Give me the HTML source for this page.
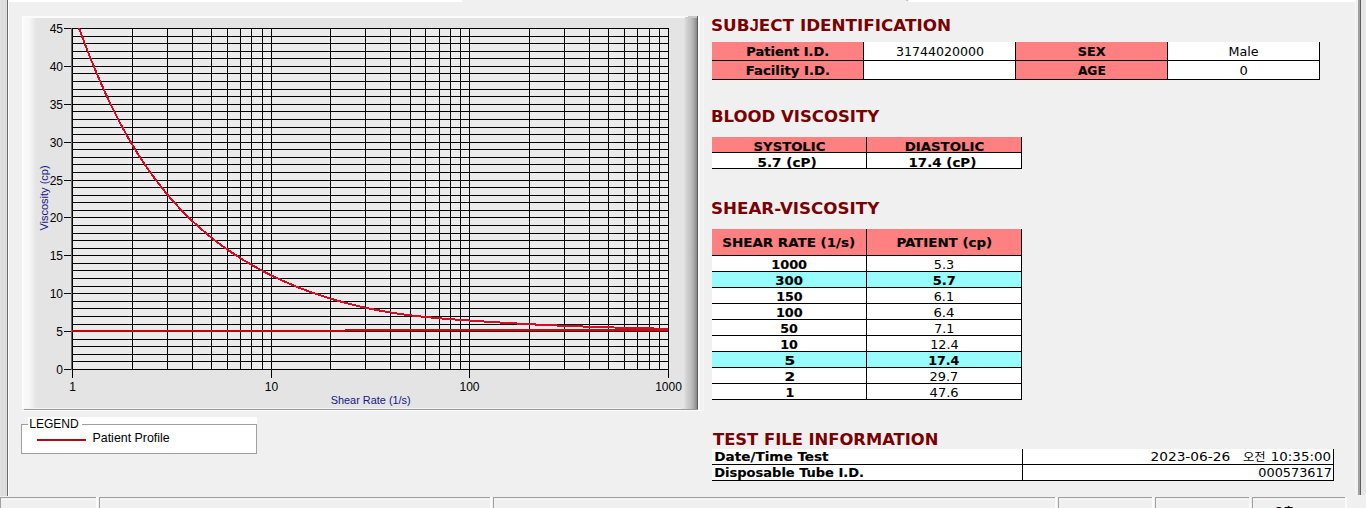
<!DOCTYPE html>
<html><head><meta charset="utf-8"><title>Blood Viscosity Report</title>
<style>html,body{margin:0;padding:0;background:#f0f0f0;}body{width:1366px;height:508px;overflow:hidden;position:relative;}svg{display:block;position:absolute;left:0;top:0;}</style>
</head><body>
<svg width="1366" height="508" viewBox="0 0 1366 508" shape-rendering="crispEdges"><rect x="0" y="0" width="1366" height="508" fill="#f0f0f0"/>
<rect x="0" y="0" width="462" height="2" fill="#ffffff"/>
<rect x="909" y="0" width="447" height="2" fill="#ffffff"/>
<rect x="906" y="0" width="2" height="1" fill="#c8c8c8"/>
<rect x="0" y="0" width="7" height="496" fill="#e0e0e0"/>
<rect x="2" y="0" width="1" height="496" fill="#d8d8d8"/>
<rect x="5" y="0" width="1" height="496" fill="#d8d8d8"/>
<rect x="7" y="0" width="1" height="496" fill="#696969"/>
<rect x="8" y="0" width="1" height="496" fill="#ffffff"/>
<rect x="1355" y="0" width="1" height="495" fill="#f7f7f7"/>
<rect x="1358" y="0" width="2" height="495" fill="#a0a0a0"/>
<rect x="1360" y="0" width="1" height="495" fill="#5e5e5e"/>
<rect x="1361" y="0" width="5" height="495" fill="#e6e6e6"/>
<defs>
<clipPath id="pc"><rect x="72" y="28" width="597" height="342"/></clipPath>
<linearGradient id="lg" x1="0" x2="1" y1="0" y2="0"><stop offset="0" stop-color="#fcfcfc"/><stop offset="0.55" stop-color="#f6f6f6"/><stop offset="1" stop-color="#e4e4e4"/></linearGradient>
<linearGradient id="rg" x1="0" x2="1" y1="0" y2="0"><stop offset="0" stop-color="#e3e3e3"/><stop offset="0.15" stop-color="#d6d6d6"/><stop offset="0.3" stop-color="#cccccc"/><stop offset="0.46" stop-color="#c4c4c4"/><stop offset="0.62" stop-color="#b8b8b8"/><stop offset="0.77" stop-color="#a8a8a8"/><stop offset="0.92" stop-color="#929292"/><stop offset="1" stop-color="#888888"/></linearGradient>
</defs>
<rect x="22" y="16" width="676" height="394" fill="#e4e4e4"/>
<rect x="22" y="16" width="14" height="393" fill="url(#lg)"/>
<rect x="22" y="16" width="667" height="2" fill="#fbfbfb"/>
<rect x="684" y="18" width="13" height="391" fill="url(#rg)"/>
<polygon points="684,18 689,16 697,16 697,18" fill="#c8c8c8"/>
<rect x="697" y="16" width="1" height="393" fill="#5c5c5c"/>
<rect x="24" y="408" width="657" height="1" fill="#f4f4f4"/>
<rect x="24" y="409" width="674" height="1" fill="#9a9a9a"/>
<rect x="22" y="410" width="680" height="1" fill="#fafafa"/>
<rect x="698" y="16" width="2" height="395" fill="#fcfcfc"/>
<rect x="702" y="16" width="2" height="395" fill="#f5f5f5"/>
<rect x="72" y="28" width="596" height="341" fill="#ebebeb"/>
<g fill="#000"><rect x="72" y="369" width="597" height="1"/><rect x="72" y="361" width="597" height="1"/><rect x="72" y="354" width="597" height="1"/><rect x="72" y="346" width="597" height="1"/><rect x="72" y="339" width="597" height="1"/><rect x="72" y="331" width="597" height="1"/><rect x="72" y="324" width="597" height="1"/><rect x="72" y="316" width="597" height="1"/><rect x="72" y="308" width="597" height="1"/><rect x="72" y="301" width="597" height="1"/><rect x="72" y="293" width="597" height="1"/><rect x="72" y="286" width="597" height="1"/><rect x="72" y="278" width="597" height="1"/><rect x="72" y="270" width="597" height="1"/><rect x="72" y="263" width="597" height="1"/><rect x="72" y="255" width="597" height="1"/><rect x="72" y="248" width="597" height="1"/><rect x="72" y="240" width="597" height="1"/><rect x="72" y="233" width="597" height="1"/><rect x="72" y="225" width="597" height="1"/><rect x="72" y="217" width="597" height="1"/><rect x="72" y="210" width="597" height="1"/><rect x="72" y="202" width="597" height="1"/><rect x="72" y="195" width="597" height="1"/><rect x="72" y="187" width="597" height="1"/><rect x="72" y="180" width="597" height="1"/><rect x="72" y="172" width="597" height="1"/><rect x="72" y="164" width="597" height="1"/><rect x="72" y="157" width="597" height="1"/><rect x="72" y="149" width="597" height="1"/><rect x="72" y="142" width="597" height="1"/><rect x="72" y="134" width="597" height="1"/><rect x="72" y="127" width="597" height="1"/><rect x="72" y="119" width="597" height="1"/><rect x="72" y="111" width="597" height="1"/><rect x="72" y="104" width="597" height="1"/><rect x="72" y="96" width="597" height="1"/><rect x="72" y="89" width="597" height="1"/><rect x="72" y="81" width="597" height="1"/><rect x="72" y="73" width="597" height="1"/><rect x="72" y="66" width="597" height="1"/><rect x="72" y="58" width="597" height="1"/><rect x="72" y="51" width="597" height="1"/><rect x="72" y="43" width="597" height="1"/><rect x="72" y="36" width="597" height="1"/><rect x="72" y="28" width="597" height="1"/><rect x="72" y="28" width="1" height="342"/><rect x="132" y="28" width="1" height="342"/><rect x="167" y="28" width="1" height="342"/><rect x="192" y="28" width="1" height="342"/><rect x="211" y="28" width="1" height="342"/><rect x="227" y="28" width="1" height="342"/><rect x="240" y="28" width="1" height="342"/><rect x="251" y="28" width="1" height="342"/><rect x="262" y="28" width="1" height="342"/><rect x="271" y="28" width="1" height="342"/><rect x="330" y="28" width="1" height="342"/><rect x="365" y="28" width="1" height="342"/><rect x="390" y="28" width="1" height="342"/><rect x="410" y="28" width="1" height="342"/><rect x="425" y="28" width="1" height="342"/><rect x="439" y="28" width="1" height="342"/><rect x="450" y="28" width="1" height="342"/><rect x="460" y="28" width="1" height="342"/><rect x="469" y="28" width="1" height="342"/><rect x="529" y="28" width="1" height="342"/><rect x="564" y="28" width="1" height="342"/><rect x="589" y="28" width="1" height="342"/><rect x="608" y="28" width="1" height="342"/><rect x="624" y="28" width="1" height="342"/><rect x="637" y="28" width="1" height="342"/><rect x="649" y="28" width="1" height="342"/><rect x="659" y="28" width="1" height="342"/><rect x="668" y="28" width="1" height="342"/><rect x="64" y="369" width="8" height="1"/><rect x="64" y="331" width="8" height="1"/><rect x="64" y="293" width="8" height="1"/><rect x="64" y="255" width="8" height="1"/><rect x="64" y="217" width="8" height="1"/><rect x="64" y="180" width="8" height="1"/><rect x="64" y="142" width="8" height="1"/><rect x="64" y="104" width="8" height="1"/><rect x="64" y="66" width="8" height="1"/><rect x="64" y="28" width="8" height="1"/><rect x="72" y="370" width="1" height="8"/><rect x="271" y="370" width="1" height="8"/><rect x="469" y="370" width="1" height="8"/><rect x="668" y="370" width="1" height="8"/></g>
<rect x="71" y="28" width="1" height="342" fill="#6a6a6a"/>
<g clip-path="url(#pc)">
<rect x="72" y="330" width="273" height="2" fill="#c80000"/>
<rect x="345" y="329" width="323" height="2" fill="#ac1818"/>
<rect x="345" y="331" width="323" height="1" fill="#780000"/>
<path d="M72.00,8.30 L72.85,10.78 L73.71,13.24 L74.56,15.68 L75.41,18.11 L76.26,20.52 L77.12,22.91 L77.97,25.29 L78.82,27.65 L79.67,29.99 L80.53,32.31 L81.38,34.62 L82.23,36.92 L83.08,39.19 L83.94,41.45 L84.79,43.70 L85.64,45.92 L86.49,48.13 L87.35,50.33 L88.20,52.51 L89.05,54.67 L89.91,56.81 L90.76,58.94 L91.61,61.06 L92.46,63.16 L93.32,65.24 L94.17,67.31 L95.02,69.36 L95.87,71.39 L96.73,73.41 L97.58,75.42 L98.43,77.40 L99.28,79.38 L100.14,81.34 L100.99,83.28 L101.84,85.21 L102.70,87.12 L103.55,89.02 L104.40,90.90 L105.25,92.77 L106.11,94.62 L106.96,96.46 L107.81,98.29 L108.66,100.10 L109.52,101.89 L110.37,103.67 L111.22,105.44 L112.07,107.19 L112.93,108.93 L113.78,110.66 L114.63,112.37 L115.48,114.06 L116.34,115.74 L117.19,117.41 L118.04,119.07 L118.90,120.71 L119.75,122.34 L120.60,123.95 L121.45,125.55 L122.31,127.14 L123.16,128.71 L124.01,130.27 L124.86,131.82 L125.72,133.36 L126.57,134.88 L127.42,136.39 L128.27,137.88 L129.13,139.36 L129.98,140.84 L130.83,142.29 L131.69,143.74 L132.54,145.17 L133.39,146.59 L134.24,148.00 L135.10,149.40 L135.95,150.78 L136.80,152.15 L137.65,153.52 L138.51,154.86 L139.36,156.20 L140.21,157.53 L141.06,158.84 L141.92,160.15 L142.77,161.44 L143.62,162.72 L144.47,164.00 L145.33,165.26 L146.18,166.51 L147.03,167.75 L147.89,168.98 L148.74,170.19 L149.59,171.40 L150.44,172.60 L151.30,173.79 L152.15,174.97 L153.00,176.14 L153.85,177.30 L154.71,178.45 L155.56,179.59 L156.41,180.72 L157.26,181.84 L158.12,182.96 L158.97,184.06 L159.82,185.16 L160.68,186.24 L161.53,187.32 L162.38,188.39 L163.23,189.45 L164.09,190.50 L164.94,191.54 L165.79,192.58 L166.64,193.60 L167.50,194.62 L168.35,195.63 L169.20,196.63 L170.05,197.62 L170.91,198.61 L171.76,199.59 L172.61,200.56 L173.46,201.52 L174.32,202.47 L175.17,203.42 L176.02,204.36 L176.88,205.29 L177.73,206.22 L178.58,207.13 L179.43,208.04 L180.29,208.95 L181.14,209.84 L181.99,210.73 L182.84,211.62 L183.70,212.49 L184.55,213.36 L185.40,214.22 L186.25,215.08 L187.11,215.92 L187.96,216.77 L188.81,217.60 L189.67,218.43 L190.52,219.25 L191.37,220.07 L192.22,220.88 L193.08,221.69 L193.93,222.48 L194.78,223.28 L195.63,224.06 L196.49,224.84 L197.34,225.62 L198.19,226.38 L199.04,227.15 L199.90,227.90 L200.75,228.65 L201.60,229.40 L202.45,230.14 L203.31,230.87 L204.16,231.60 L205.01,232.33 L205.87,233.04 L206.72,233.76 L207.57,234.46 L208.42,235.17 L209.28,235.86 L210.13,236.56 L210.98,237.24 L211.83,237.92 L212.69,238.60 L213.54,239.27 L214.39,239.94 L215.24,240.60 L216.10,241.26 L216.95,241.91 L217.80,242.56 L218.66,243.20 L219.51,243.84 L220.36,244.48 L221.21,245.11 L222.07,245.73 L222.92,246.35 L223.77,246.97 L224.62,247.58 L225.48,248.18 L226.33,248.79 L227.18,249.39 L228.03,249.98 L228.89,250.57 L229.74,251.16 L230.59,251.74 L231.44,252.32 L232.30,252.89 L233.15,253.46 L234.00,254.03 L234.86,254.59 L235.71,255.15 L236.56,255.70 L237.41,256.25 L238.27,256.80 L239.12,257.34 L239.97,257.88 L240.82,258.41 L241.68,258.94 L242.53,259.47 L243.38,260.00 L244.23,260.52 L245.09,261.03 L245.94,261.55 L246.79,262.06 L247.65,262.56 L248.50,263.07 L249.35,263.57 L250.20,264.06 L251.06,264.56 L251.91,265.05 L252.76,265.53 L253.61,266.01 L254.47,266.49 L255.32,266.97 L256.17,267.45 L257.02,267.92 L257.88,268.38 L258.73,268.85 L259.58,269.31 L260.43,269.77 L261.29,270.22 L262.14,270.67 L262.99,271.12 L263.85,271.57 L264.70,272.01 L265.55,272.45 L266.40,272.89 L267.26,273.32 L268.11,273.76 L268.96,274.19 L269.81,274.61 L270.67,275.04 L271.52,275.46 L272.37,275.87 L273.22,276.29 L274.08,276.70 L274.93,277.11 L275.78,277.52 L276.64,277.92 L277.49,278.33 L278.34,278.73 L279.19,279.12 L280.05,279.52 L280.90,279.91 L281.75,280.30 L282.60,280.69 L283.46,281.07 L284.31,281.45 L285.16,281.83 L286.01,282.21 L286.87,282.58 L287.72,282.95 L288.57,283.32 L289.42,283.69 L290.28,284.05 L291.13,284.41 L291.98,284.77 L292.84,285.13 L293.69,285.48 L294.54,285.83 L295.39,286.18 L296.25,286.53 L297.10,286.88 L297.95,287.22 L298.80,287.56 L299.66,287.89 L300.51,288.23 L301.36,288.56 L302.21,288.89 L303.07,289.22 L303.92,289.55 L304.77,289.87 L305.63,290.19 L306.48,290.51 L307.33,290.83 L308.18,291.14 L309.04,291.46 L309.89,291.77 L310.74,292.08 L311.59,292.38 L312.45,292.69 L313.30,292.99 L314.15,293.29 L315.00,293.58 L315.86,293.88 L316.71,294.17 L317.56,294.46 L318.41,294.75 L319.27,295.04 L320.12,295.32 L320.97,295.61 L321.83,295.89 L322.68,296.17 L323.53,296.44 L324.38,296.72 L325.24,296.99 L326.09,297.26 L326.94,297.53 L327.79,297.79 L328.65,298.06 L329.50,298.32 L330.35,298.58 L331.20,298.84 L332.06,299.09 L332.91,299.35 L333.76,299.60 L334.62,299.85 L335.47,300.10 L336.32,300.35 L337.17,300.59 L338.03,300.83 L338.88,301.08 L339.73,301.31 L340.58,301.55 L341.44,301.79 L342.29,302.02 L343.14,302.25 L343.99,302.48 L344.85,302.71 L345.70,302.94 L346.55,303.16 L347.40,303.38 L348.26,303.60 L349.11,303.82 L349.96,304.04 L350.82,304.26 L351.67,304.47 L352.52,304.68 L353.37,304.89 L354.23,305.10 L355.08,305.31 L355.93,305.51 L356.78,305.72 L357.64,305.92 L358.49,306.12 L359.34,306.31 L360.19,306.51 L361.05,306.71 L361.90,306.90 L362.75,307.09 L363.61,307.28 L364.46,307.47 L365.31,307.65 L366.16,307.84 L367.02,308.02 L367.87,308.20 L368.72,308.38 L369.57,308.56 L370.43,308.74 L371.28,308.91 L372.13,309.09 L372.98,309.26 L373.84,309.43 L374.69,309.60 L375.54,309.76 L376.39,309.93 L377.25,310.09 L378.10,310.26 L378.95,310.42 L379.81,310.58 L380.66,310.73 L381.51,310.89 L382.36,311.04 L383.22,311.20 L384.07,311.35 L384.92,311.50 L385.77,311.65 L386.63,311.79 L387.48,311.94 L388.33,312.08 L389.18,312.23 L390.04,312.37 L390.89,312.51 L391.74,312.65 L392.60,312.78 L393.45,312.92 L394.30,313.05 L395.15,313.18 L396.01,313.31 L396.86,313.44 L397.71,313.57 L398.56,313.70 L399.42,313.82 L400.27,313.95 L401.12,314.07 L401.97,314.19 L402.83,314.31 L403.68,314.43 L404.53,314.54 L405.38,314.66 L406.24,314.77 L407.09,314.88 L407.94,315.00 L408.80,315.10 L409.65,315.21 L410.50,315.32 L411.35,315.42 L412.21,315.53 L413.06,315.63 L413.91,315.73 L414.76,315.83 L415.62,315.93 L416.47,316.03 L417.32,316.13 L418.17,316.22 L419.03,316.32 L419.88,316.41 L420.73,316.50 L421.59,316.59 L422.44,316.68 L423.29,316.77 L424.14,316.86 L425.00,316.94 L425.85,317.03 L426.70,317.11 L427.55,317.20 L428.41,317.28 L429.26,317.36 L430.11,317.44 L430.96,317.52 L431.82,317.60 L432.67,317.68 L433.52,317.76 L434.37,317.83 L435.23,317.91 L436.08,317.98 L436.93,318.06 L437.79,318.13 L438.64,318.21 L439.49,318.28 L440.34,318.35 L441.20,318.42 L442.05,318.49 L442.90,318.56 L443.75,318.63 L444.61,318.70 L445.46,318.77 L446.31,318.83 L447.16,318.90 L448.02,318.97 L448.87,319.03 L449.72,319.10 L450.58,319.16 L451.43,319.23 L452.28,319.29 L453.13,319.35 L453.99,319.42 L454.84,319.48 L455.69,319.54 L456.54,319.60 L457.40,319.67 L458.25,319.73 L459.10,319.79 L459.95,319.85 L460.81,319.91 L461.66,319.97 L462.51,320.03 L463.36,320.09 L464.22,320.15 L465.07,320.21 L465.92,320.27 L466.78,320.33 L467.63,320.38 L468.48,320.44 L469.33,320.50 L470.19,320.56 L471.04,320.62 L471.89,320.68 L472.74,320.74 L473.60,320.79 L474.45,320.85 L475.30,320.91 L476.15,320.97 L477.01,321.02 L477.86,321.08 L478.71,321.14 L479.57,321.20 L480.42,321.25 L481.27,321.31 L482.12,321.37 L482.98,321.42 L483.83,321.48 L484.68,321.53 L485.53,321.59 L486.39,321.65 L487.24,321.70 L488.09,321.76 L488.94,321.81 L489.80,321.87 L490.65,321.92 L491.50,321.98 L492.35,322.03 L493.21,322.09 L494.06,322.14 L494.91,322.19 L495.77,322.25 L496.62,322.30 L497.47,322.36 L498.32,322.41 L499.18,322.46 L500.03,322.51 L500.88,322.57 L501.73,322.62 L502.59,322.67 L503.44,322.72 L504.29,322.77 L505.14,322.83 L506.00,322.88 L506.85,322.93 L507.70,322.98 L508.56,323.03 L509.41,323.08 L510.26,323.13 L511.11,323.18 L511.97,323.23 L512.82,323.28 L513.67,323.33 L514.52,323.38 L515.38,323.42 L516.23,323.47 L517.08,323.52 L517.93,323.57 L518.79,323.62 L519.64,323.66 L520.49,323.71 L521.34,323.76 L522.20,323.80 L523.05,323.85 L523.90,323.90 L524.76,323.94 L525.61,323.99 L526.46,324.03 L527.31,324.08 L528.17,324.12 L529.02,324.17 L529.87,324.21 L530.72,324.26 L531.58,324.30 L532.43,324.35 L533.28,324.39 L534.13,324.43 L534.99,324.48 L535.84,324.52 L536.69,324.56 L537.55,324.60 L538.40,324.65 L539.25,324.69 L540.10,324.73 L540.96,324.77 L541.81,324.81 L542.66,324.85 L543.51,324.90 L544.37,324.94 L545.22,324.98 L546.07,325.02 L546.92,325.06 L547.78,325.10 L548.63,325.13 L549.48,325.17 L550.33,325.21 L551.19,325.25 L552.04,325.29 L552.89,325.33 L553.75,325.37 L554.60,325.40 L555.45,325.44 L556.30,325.48 L557.16,325.51 L558.01,325.55 L558.86,325.59 L559.71,325.62 L560.57,325.66 L561.42,325.70 L562.27,325.73 L563.12,325.77 L563.98,325.80 L564.83,325.84 L565.68,325.87 L566.54,325.90 L567.39,325.94 L568.24,325.97 L569.09,326.01 L569.95,326.04 L570.80,326.07 L571.65,326.10 L572.50,326.14 L573.36,326.17 L574.21,326.20 L575.06,326.23 L575.91,326.26 L576.77,326.30 L577.62,326.33 L578.47,326.36 L579.32,326.39 L580.18,326.42 L581.03,326.45 L581.88,326.48 L582.74,326.51 L583.59,326.54 L584.44,326.57 L585.29,326.60 L586.15,326.63 L587.00,326.66 L587.85,326.69 L588.70,326.71 L589.56,326.74 L590.41,326.77 L591.26,326.80 L592.11,326.83 L592.97,326.85 L593.82,326.88 L594.67,326.91 L595.53,326.94 L596.38,326.96 L597.23,326.99 L598.08,327.02 L598.94,327.04 L599.79,327.07 L600.64,327.10 L601.49,327.12 L602.35,327.15 L603.20,327.17 L604.05,327.20 L604.90,327.23 L605.76,327.25 L606.61,327.28 L607.46,327.30 L608.31,327.33 L609.17,327.35 L610.02,327.38 L610.87,327.40 L611.73,327.42 L612.58,327.45 L613.43,327.47 L614.28,327.50 L615.14,327.52 L615.99,327.54 L616.84,327.57 L617.69,327.59 L618.55,327.61 L619.40,327.64 L620.25,327.66 L621.10,327.68 L621.96,327.71 L622.81,327.73 L623.66,327.75 L624.52,327.78 L625.37,327.80 L626.22,327.82 L627.07,327.84 L627.93,327.87 L628.78,327.89 L629.63,327.91 L630.48,327.93 L631.34,327.95 L632.19,327.98 L633.04,328.00 L633.89,328.02 L634.75,328.04 L635.60,328.06 L636.45,328.08 L637.30,328.10 L638.16,328.13 L639.01,328.15 L639.86,328.17 L640.72,328.19 L641.57,328.21 L642.42,328.23 L643.27,328.25 L644.13,328.27 L644.98,328.29 L645.83,328.31 L646.68,328.33 L647.54,328.36 L648.39,328.38 L649.24,328.40 L650.09,328.42 L650.95,328.44 L651.80,328.46 L652.65,328.48 L653.51,328.50 L654.36,328.52 L655.21,328.54 L656.06,328.56 L656.92,328.58 L657.77,328.60 L658.62,328.62 L659.47,328.64 L660.33,328.66 L661.18,328.68 L662.03,328.70 L662.88,328.72 L663.74,328.74 L664.59,328.76 L665.44,328.78 L666.29,328.80 L667.15,328.82 L668.00,328.84" fill="none" stroke="#d80a24" stroke-width="2"/>
</g>
<g font-family="'Liberation Sans', Arial, sans-serif" font-size="12" fill="#000"><text x="63" y="374" text-anchor="end">0</text><text x="63" y="336" text-anchor="end">5</text><text x="63" y="298" text-anchor="end">10</text><text x="63" y="260" text-anchor="end">15</text><text x="63" y="222" text-anchor="end">20</text><text x="63" y="185" text-anchor="end">25</text><text x="63" y="147" text-anchor="end">30</text><text x="63" y="109" text-anchor="end">35</text><text x="63" y="71" text-anchor="end">40</text><text x="63" y="33" text-anchor="end">45</text><text x="72.5" y="391" text-anchor="middle">1</text><text x="271.5" y="391" text-anchor="middle">10</text><text x="469.5" y="391" text-anchor="middle">100</text><text x="668.5" y="391" text-anchor="middle">1000</text></g>
<text x="330.71" y="404" font-family="'Liberation Sans', Arial, sans-serif" font-size="11" fill="#141488" textLength="79.99" lengthAdjust="spacingAndGlyphs">Shear Rate (1/s)</text>
<text transform="translate(48,198) rotate(-90)" font-family="'Liberation Sans', Arial, sans-serif" font-size="11" fill="#141488" text-anchor="middle">Viscosity (cp)</text>
<rect x="21" y="417" width="236" height="37" fill="#ffffff"/>
<rect x="21" y="417" width="8" height="7" fill="#f0f0f0"/>
<rect x="21.5" y="424.5" width="235" height="29" fill="none" stroke="#a0a0a0" stroke-width="1"/>
<rect x="28" y="417" width="54" height="10" fill="#ffffff"/>
<text x="29.22" y="428" font-family="'Liberation Sans', Arial, sans-serif" font-size="12.3" fill="#000" textLength="49.55" lengthAdjust="spacingAndGlyphs">LEGEND</text>
<rect x="37" y="439" width="49" height="2" fill="#b00a1a"/>
<text x="92.52" y="442" font-family="'Liberation Sans', Arial, sans-serif" font-size="12.6" fill="#000" textLength="77.18" lengthAdjust="spacingAndGlyphs">Patient Profile</text>
<rect x="0" y="497" width="1366" height="11" fill="#f0f0f0"/>
<rect x="0" y="497" width="96" height="1" fill="#a0a0a0"/>
<rect x="0" y="497" width="1" height="11" fill="#a0a0a0"/>
<rect x="1" y="499" width="94" height="1" fill="#f6f6f6"/>
<rect x="96" y="497" width="2" height="11" fill="#fbfbfb"/>
<rect x="99" y="497" width="391" height="1" fill="#a0a0a0"/>
<rect x="99" y="497" width="1" height="11" fill="#a0a0a0"/>
<rect x="100" y="499" width="389" height="1" fill="#f6f6f6"/>
<rect x="490" y="497" width="2" height="11" fill="#fbfbfb"/>
<rect x="493" y="497" width="562" height="1" fill="#a0a0a0"/>
<rect x="493" y="497" width="1" height="11" fill="#a0a0a0"/>
<rect x="494" y="499" width="560" height="1" fill="#f6f6f6"/>
<rect x="1055" y="497" width="2" height="11" fill="#fbfbfb"/>
<rect x="1058" y="497" width="94" height="1" fill="#a0a0a0"/>
<rect x="1058" y="497" width="1" height="11" fill="#a0a0a0"/>
<rect x="1059" y="499" width="92" height="1" fill="#f6f6f6"/>
<rect x="1152" y="497" width="2" height="11" fill="#fbfbfb"/>
<rect x="1155" y="497" width="94" height="1" fill="#a0a0a0"/>
<rect x="1155" y="497" width="1" height="11" fill="#a0a0a0"/>
<rect x="1156" y="499" width="92" height="1" fill="#f6f6f6"/>
<rect x="1249" y="497" width="2" height="11" fill="#fbfbfb"/>
<rect x="1252" y="497" width="93" height="1" fill="#a0a0a0"/>
<rect x="1252" y="497" width="1" height="11" fill="#a0a0a0"/>
<rect x="1253" y="499" width="91" height="1" fill="#f6f6f6"/>
<rect x="1345" y="497" width="2" height="11" fill="#fbfbfb"/>
<text x="1274" y="514.5" font-family="'Noto Sans CJK KR', sans-serif" font-weight="bold" font-size="10.5" fill="#000">오후</text>
<text x="710.98" y="31" font-family="'DejaVu Sans', Verdana, sans-serif" font-weight="bold" font-size="16.5" fill="#7a0000" textLength="240.02" lengthAdjust="spacingAndGlyphs">SUB<tspan font-family="Liberation Sans">J</tspan>ECT IDENTIFICATION</text>
<text x="711.00" y="122" font-family="'DejaVu Sans', Verdana, sans-serif" font-weight="bold" font-size="16.5" fill="#7a0000" textLength="168.16" lengthAdjust="spacingAndGlyphs">BLOOD VISCOSITY</text>
<text x="710.99" y="214" font-family="'DejaVu Sans', Verdana, sans-serif" font-weight="bold" font-size="16.5" fill="#7a0000" textLength="168.27" lengthAdjust="spacingAndGlyphs">SHEAR-VISCOSITY</text>
<text x="713.00" y="445" font-family="'DejaVu Sans', Verdana, sans-serif" font-weight="bold" font-size="16.5" fill="#7a0000" textLength="225.44" lengthAdjust="spacingAndGlyphs">TEST FILE INFORMATION</text>
<rect x="712" y="42" width="151" height="37" fill="#ff8080"/>
<rect x="864" y="42" width="151" height="37" fill="#fff"/>
<rect x="1016" y="42" width="151" height="37" fill="#ff8080"/>
<rect x="1168" y="42" width="151" height="37" fill="#fff"/>
<g fill="#000"><rect x="712" y="60" width="608" height="1"/><rect x="712" y="79" width="608" height="1"/><rect x="863" y="42" width="1" height="38"/><rect x="1015" y="42" width="1" height="38"/><rect x="1167" y="42" width="1" height="38"/><rect x="1319" y="42" width="1" height="38"/></g>
<text x="746.39" y="56" font-family="'DejaVu Sans Condensed', 'DejaVu Sans', sans-serif" font-weight="bold" font-size="13" fill="#000" stroke="#000" stroke-width="0.15" textLength="82.77" lengthAdjust="spacingAndGlyphs">Patient I.D.</text>
<text x="745.87" y="75" font-family="'DejaVu Sans Condensed', 'DejaVu Sans', sans-serif" font-weight="bold" font-size="13" fill="#000" stroke="#000" stroke-width="0.15" textLength="84.12" lengthAdjust="spacingAndGlyphs">Facility I.D.</text>
<text x="895.92" y="56" font-family="'DejaVu Sans Condensed', 'DejaVu Sans', sans-serif" font-size="13" fill="#000" textLength="87.98" lengthAdjust="spacingAndGlyphs">31744020000</text>
<text x="1077.70" y="56" font-family="'DejaVu Sans Condensed', 'DejaVu Sans', sans-serif" font-weight="bold" font-size="13" fill="#000" stroke="#000" stroke-width="0.15" textLength="27.88" lengthAdjust="spacingAndGlyphs">SEX</text>
<text x="1077.90" y="75" font-family="'DejaVu Sans Condensed', 'DejaVu Sans', sans-serif" font-weight="bold" font-size="13" fill="#000" stroke="#000" stroke-width="0.15" textLength="27.89" lengthAdjust="spacingAndGlyphs">AGE</text>
<text x="1228.51" y="56" font-family="'DejaVu Sans Condensed', 'DejaVu Sans', sans-serif" font-size="13" fill="#000" textLength="30.17" lengthAdjust="spacingAndGlyphs">Male</text>
<text x="1239.58" y="75" font-family="'DejaVu Sans Condensed', 'DejaVu Sans', sans-serif" font-size="13" fill="#000" textLength="8.32" lengthAdjust="spacingAndGlyphs">0</text>
<rect x="712" y="137" width="154" height="15" fill="#ff8080"/>
<rect x="867" y="137" width="154" height="15" fill="#ff8080"/>
<rect x="712" y="153" width="154" height="15" fill="#fff"/>
<rect x="867" y="153" width="154" height="15" fill="#fff"/>
<g fill="#000"><rect x="712" y="152" width="310" height="1"/><rect x="712" y="168" width="310" height="1"/><rect x="866" y="137" width="1" height="32"/><rect x="1021" y="137" width="1" height="32"/></g>
<text x="753.57" y="151" font-family="'DejaVu Sans Condensed', 'DejaVu Sans', sans-serif" font-weight="bold" font-size="13" fill="#000" stroke="#000" stroke-width="0.15" textLength="71.83" lengthAdjust="spacingAndGlyphs">SYSTOLIC</text>
<text x="904.66" y="151" font-family="'DejaVu Sans Condensed', 'DejaVu Sans', sans-serif" font-weight="bold" font-size="13" fill="#000" stroke="#000" stroke-width="0.15" textLength="79.50" lengthAdjust="spacingAndGlyphs">DIASTOLIC</text>
<text x="757.54" y="167" font-family="'DejaVu Sans Condensed', 'DejaVu Sans', sans-serif" font-weight="bold" font-size="13" fill="#000" stroke="#000" stroke-width="0.15" textLength="59.10" lengthAdjust="spacingAndGlyphs">5.7 (cP)</text>
<text x="908.55" y="167" font-family="'DejaVu Sans Condensed', 'DejaVu Sans', sans-serif" font-weight="bold" font-size="13" fill="#000" stroke="#000" stroke-width="0.15" textLength="67.73" lengthAdjust="spacingAndGlyphs">17.4 (cP)</text>
<rect x="712" y="229" width="154" height="26" fill="#ff8080"/>
<rect x="867" y="229" width="154" height="26" fill="#ff8080"/>
<rect x="712" y="256" width="154" height="15" fill="#fff"/>
<rect x="867" y="256" width="154" height="15" fill="#fff"/>
<rect x="712" y="272" width="154" height="15" fill="#98fcfc"/>
<rect x="867" y="272" width="154" height="15" fill="#98fcfc"/>
<rect x="712" y="288" width="154" height="15" fill="#fff"/>
<rect x="867" y="288" width="154" height="15" fill="#fff"/>
<rect x="712" y="304" width="154" height="15" fill="#fff"/>
<rect x="867" y="304" width="154" height="15" fill="#fff"/>
<rect x="712" y="320" width="154" height="15" fill="#fff"/>
<rect x="867" y="320" width="154" height="15" fill="#fff"/>
<rect x="712" y="336" width="154" height="15" fill="#fff"/>
<rect x="867" y="336" width="154" height="15" fill="#fff"/>
<rect x="712" y="352" width="154" height="15" fill="#98fcfc"/>
<rect x="867" y="352" width="154" height="15" fill="#98fcfc"/>
<rect x="712" y="368" width="154" height="15" fill="#fff"/>
<rect x="867" y="368" width="154" height="15" fill="#fff"/>
<rect x="712" y="384" width="154" height="15" fill="#fff"/>
<rect x="867" y="384" width="154" height="15" fill="#fff"/>
<g fill="#000"><rect x="712" y="255" width="310" height="1"/><rect x="866" y="229" width="1" height="171"/><rect x="1021" y="229" width="1" height="171"/><rect x="712" y="271" width="310" height="1"/><rect x="712" y="287" width="310" height="1"/><rect x="712" y="303" width="310" height="1"/><rect x="712" y="319" width="310" height="1"/><rect x="712" y="335" width="310" height="1"/><rect x="712" y="351" width="310" height="1"/><rect x="712" y="367" width="310" height="1"/><rect x="712" y="383" width="310" height="1"/><rect x="712" y="399" width="310" height="1"/></g>
<text x="722.25" y="247" font-family="'DejaVu Sans Condensed', 'DejaVu Sans', sans-serif" font-weight="bold" font-size="13" fill="#000" stroke="#000" stroke-width="0.15" textLength="132.91" lengthAdjust="spacingAndGlyphs">SHEAR RATE (1/s)</text>
<text x="896.45" y="247" font-family="'DejaVu Sans Condensed', 'DejaVu Sans', sans-serif" font-weight="bold" font-size="13" fill="#000" stroke="#000" stroke-width="0.15" textLength="95.81" lengthAdjust="spacingAndGlyphs">PATIENT (cp)</text>
<text x="771.20" y="269" font-family="'DejaVu Sans Condensed', 'DejaVu Sans', sans-serif" font-weight="bold" font-size="13" fill="#000" stroke="#000" stroke-width="0.15" textLength="35.92" lengthAdjust="spacingAndGlyphs">1000</text>
<text x="933.81" y="269" font-family="'DejaVu Sans Condensed', 'DejaVu Sans', sans-serif" font-size="13" fill="#000" textLength="20.34" lengthAdjust="spacingAndGlyphs">5.3</text>
<text x="775.37" y="285" font-family="'DejaVu Sans Condensed', 'DejaVu Sans', sans-serif" font-weight="bold" font-size="13" fill="#000" stroke="#000" stroke-width="0.15" textLength="27.61" lengthAdjust="spacingAndGlyphs">300</text>
<text x="932.69" y="285" font-family="'DejaVu Sans Condensed', 'DejaVu Sans', sans-serif" font-weight="bold" font-size="13" fill="#000" stroke="#000" stroke-width="0.15" textLength="23.01" lengthAdjust="spacingAndGlyphs">5.7</text>
<text x="776.22" y="301" font-family="'DejaVu Sans Condensed', 'DejaVu Sans', sans-serif" font-weight="bold" font-size="13" fill="#000" stroke="#000" stroke-width="0.15" textLength="26.44" lengthAdjust="spacingAndGlyphs">150</text>
<text x="933.82" y="301" font-family="'DejaVu Sans Condensed', 'DejaVu Sans', sans-serif" font-size="13" fill="#000" textLength="20.12" lengthAdjust="spacingAndGlyphs">6.1</text>
<text x="775.90" y="317" font-family="'DejaVu Sans Condensed', 'DejaVu Sans', sans-serif" font-weight="bold" font-size="13" fill="#000" stroke="#000" stroke-width="0.15" textLength="26.76" lengthAdjust="spacingAndGlyphs">100</text>
<text x="933.47" y="317" font-family="'DejaVu Sans Condensed', 'DejaVu Sans', sans-serif" font-size="13" fill="#000" textLength="21.00" lengthAdjust="spacingAndGlyphs">6.4</text>
<text x="780.22" y="333" font-family="'DejaVu Sans Condensed', 'DejaVu Sans', sans-serif" font-weight="bold" font-size="13" fill="#000" stroke="#000" stroke-width="0.15" textLength="17.58" lengthAdjust="spacingAndGlyphs">50</text>
<text x="934.23" y="333" font-family="'DejaVu Sans Condensed', 'DejaVu Sans', sans-serif" font-size="13" fill="#000" textLength="19.91" lengthAdjust="spacingAndGlyphs">7.1</text>
<text x="780.32" y="349" font-family="'DejaVu Sans Condensed', 'DejaVu Sans', sans-serif" font-weight="bold" font-size="13" fill="#000" stroke="#000" stroke-width="0.15" textLength="17.58" lengthAdjust="spacingAndGlyphs">10</text>
<text x="930.21" y="349" font-family="'DejaVu Sans Condensed', 'DejaVu Sans', sans-serif" font-size="13" fill="#000" textLength="28.43" lengthAdjust="spacingAndGlyphs">12.4</text>
<text x="784.58" y="365" font-family="'DejaVu Sans Condensed', 'DejaVu Sans', sans-serif" font-weight="bold" font-size="13" fill="#000" stroke="#000" stroke-width="0.15" textLength="10.72" lengthAdjust="spacingAndGlyphs">5</text>
<text x="928.33" y="365" font-family="'DejaVu Sans Condensed', 'DejaVu Sans', sans-serif" font-weight="bold" font-size="13" fill="#000" stroke="#000" stroke-width="0.15" textLength="31.00" lengthAdjust="spacingAndGlyphs">17.4</text>
<text x="784.58" y="381" font-family="'DejaVu Sans Condensed', 'DejaVu Sans', sans-serif" font-weight="bold" font-size="13" fill="#000" stroke="#000" stroke-width="0.15" textLength="10.72" lengthAdjust="spacingAndGlyphs">2</text>
<text x="929.60" y="381" font-family="'DejaVu Sans Condensed', 'DejaVu Sans', sans-serif" font-size="13" fill="#000" textLength="28.76" lengthAdjust="spacingAndGlyphs">29.7</text>
<text x="785.42" y="397" font-family="'DejaVu Sans Condensed', 'DejaVu Sans', sans-serif" font-weight="bold" font-size="13" fill="#000" stroke="#000" stroke-width="0.15" textLength="8.82" lengthAdjust="spacingAndGlyphs">1</text>
<text x="929.58" y="397" font-family="'DejaVu Sans Condensed', 'DejaVu Sans', sans-serif" font-size="13" fill="#000" textLength="29.09" lengthAdjust="spacingAndGlyphs">47.6</text>
<rect x="712" y="449" width="310" height="15" fill="#fff"/>
<rect x="1023" y="449" width="310" height="15" fill="#fff"/>
<rect x="712" y="465" width="310" height="15" fill="#fff"/>
<rect x="1023" y="465" width="310" height="15" fill="#fff"/>
<g fill="#000"><rect x="712" y="464" width="622" height="1"/><rect x="712" y="480" width="622" height="1"/><rect x="1022" y="449" width="1" height="32"/><rect x="1333" y="449" width="1" height="32"/></g>
<text x="714.24" y="461" font-family="'DejaVu Sans Condensed', 'DejaVu Sans', sans-serif" font-weight="bold" font-size="13" fill="#000" stroke="#000" stroke-width="0.15" textLength="114.34" lengthAdjust="spacingAndGlyphs">Date/Time Test</text>
<text x="714.29" y="477" font-family="'DejaVu Sans Condensed', 'DejaVu Sans', sans-serif" font-weight="bold" font-size="13" fill="#000" stroke="#000" stroke-width="0.15" textLength="149.72" lengthAdjust="spacingAndGlyphs">Disposable Tube I.D.</text>
<text x="1150.53" y="461" font-family="'DejaVu Sans Condensed', 'DejaVu Sans', sans-serif" font-size="13" fill="#000" textLength="79.61" lengthAdjust="spacingAndGlyphs">2023-06-26</text>
<text x="1242.93" y="461" font-family="'Noto Sans CJK KR', sans-serif" font-size="11.5" fill="#000" textLength="22.73" lengthAdjust="spacingAndGlyphs">오전</text>
<text x="1270.86" y="461" font-family="'DejaVu Sans Condensed', 'DejaVu Sans', sans-serif" font-size="13" fill="#000" textLength="60.05" lengthAdjust="spacingAndGlyphs">10:35:00</text>
<text x="1258.30" y="477" font-family="'DejaVu Sans Condensed', 'DejaVu Sans', sans-serif" font-size="13" fill="#000" textLength="73.56" lengthAdjust="spacingAndGlyphs">000573617</text></svg>
</body></html>
